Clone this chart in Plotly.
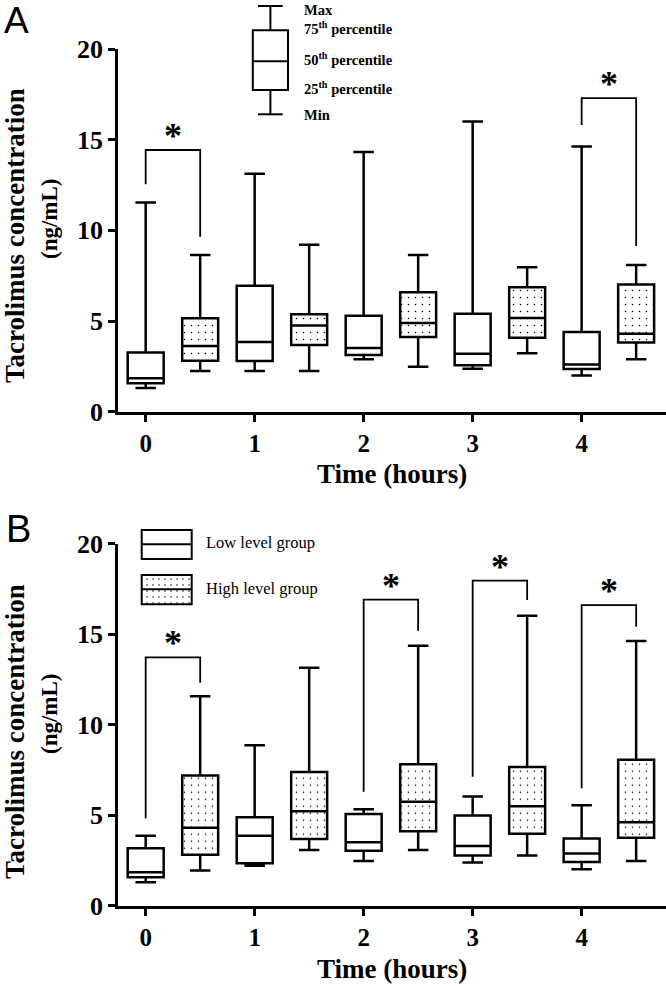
import plotly.graph_objects as go

W, H = 666, 986

# ---------------- data ----------------
time_pos = [0, 1, 2, 3, 4]
time_labels = ["0", "1", "2", "3", "4"]
y_ticks = [0, 5, 10, 15, 20]

# Panel A
a_low_min = [1.30, 2.24, 2.89, 2.37, 2.00]
a_low_q1 = [1.57, 2.79, 3.13, 2.56, 2.36]
a_low_med = [1.85, 3.84, 3.51, 3.20, 2.60]
a_low_q3 = [3.27, 6.95, 5.29, 5.40, 4.39]
a_low_max = [11.53, 13.12, 14.32, 16.00, 14.62]

a_high_min = [2.24, 2.24, 2.48, 3.22, 2.89]
a_high_q1 = [2.81, 3.68, 4.12, 4.08, 3.81]
a_high_med = [3.62, 4.76, 4.89, 5.17, 4.30]
a_high_q3 = [5.15, 5.37, 6.58, 6.86, 7.02]
a_high_max = [8.64, 9.21, 8.64, 7.96, 8.09]

# Panel B
b_low_min = [1.29, 2.21, 2.47, 2.38, 2.01]
b_low_q1 = [1.57, 2.34, 3.04, 2.77, 2.42]
b_low_med = [1.85, 3.86, 3.51, 3.30, 2.88]
b_low_q3 = [3.17, 4.89, 5.06, 4.98, 3.71]
b_low_max = [3.86, 8.87, 5.33, 6.03, 5.55]

b_high_min = [1.94, 3.08, 3.08, 2.77, 2.47]
b_high_q1 = [2.82, 3.69, 4.11, 3.97, 3.76]
b_high_med = [4.30, 5.22, 5.74, 5.50, 4.61]
b_high_q3 = [7.20, 7.38, 7.82, 7.66, 8.06]
b_high_max = [11.57, 13.15, 14.36, 16.02, 14.62]

# significance brackets (time point, bracket top, low-leg end, high-leg end)
a_sig_time = [0, 4]
a_sig_top = [14.43, 17.29]
a_sig_low_end = [12.54, 15.81]
a_sig_high_end = [9.65, 9.14]

b_sig_time = [0, 2, 3, 4]
b_sig_top = [13.72, 16.91, 17.96, 16.61]
b_sig_low_end = [4.83, 6.30, 7.13, 6.49]
b_sig_high_end = [12.32, 15.19, 16.89, 15.41]

# ---------------- styling ----------------
HIGH_OFFSET = 0.5
BOX_W = 0.33
LW = 2.5
SERIF = "Liberation Serif"


def py(v):
    return 1 - v / H


fig = go.Figure()


def add_panel(xa, ya, lo, hi, sig):
    lo_min, lo_q1, lo_med, lo_q3, lo_max = lo
    hi_min, hi_q1, hi_med, hi_q3, hi_max = hi
    hx = [t + HIGH_OFFSET for t in time_pos]
    # dotted fill for high-level group boxes
    fig.add_trace(go.Bar(
        x=hx, base=hi_q1, y=[b - a for a, b in zip(hi_q1, hi_q3)], width=BOX_W,
        marker=dict(color="white", line=dict(width=0),
                    pattern=dict(shape=".", fgcolor="black", bgcolor="white",
                                 size=7, solidity=0.04)),
        xaxis=xa, yaxis=ya, hoverinfo="skip", showlegend=False))
    fig.add_trace(go.Box(
        x=time_pos, q1=lo_q1, median=lo_med, q3=lo_q3,
        lowerfence=lo_min, upperfence=lo_max, width=BOX_W, whiskerwidth=0.57,
        fillcolor="white", line=dict(color="black", width=LW),
        boxpoints=False, xaxis=xa, yaxis=ya, showlegend=False))
    fig.add_trace(go.Box(
        x=hx, q1=hi_q1, median=hi_med, q3=hi_q3,
        lowerfence=hi_min, upperfence=hi_max, width=BOX_W, whiskerwidth=0.57,
        fillcolor="rgba(0,0,0,0)", line=dict(color="black", width=LW),
        boxpoints=False, xaxis=xa, yaxis=ya, showlegend=False))
    st, stop, slo, shi = sig
    bx, by = [], []
    for t, top, le, he in zip(st, stop, slo, shi):
        bx += [t, t, t + HIGH_OFFSET, t + HIGH_OFFSET, None]
        by += [le, top, top, he, None]
        fig.add_annotation(x=t + HIGH_OFFSET / 2, y=top, xref=xa, yref=ya,
                           text="*", showarrow=False, yanchor="middle", yshift=14,
                           font=dict(family=SERIF, size=36, color="black", weight="bold"))
    fig.add_trace(go.Scatter(x=bx, y=by, mode="lines",
                             line=dict(color="black", width=1.8),
                             xaxis=xa, yaxis=ya, hoverinfo="skip", showlegend=False))


add_panel("x", "y",
          (a_low_min, a_low_q1, a_low_med, a_low_q3, a_low_max),
          (a_high_min, a_high_q1, a_high_med, a_high_q3, a_high_max),
          (a_sig_time, a_sig_top, a_sig_low_end, a_sig_high_end))
add_panel("x2", "y2",
          (b_low_min, b_low_q1, b_low_med, b_low_q3, b_low_max),
          (b_high_min, b_high_q1, b_high_med, b_high_q3, b_high_max),
          (b_sig_time, b_sig_top, b_sig_low_end, b_sig_high_end))

# legend key (B) dotted fill, on pixel overlay axes
fig.add_trace(go.Bar(x=[166.7], base=[575], y=[29.3], width=[50],
                     marker=dict(color="white", line=dict(width=0),
                                 pattern=dict(shape=".", fgcolor="black", bgcolor="white",
                                              size=6, solidity=0.05)),
                     xaxis="x3", yaxis="y3", hoverinfo="skip", showlegend=False))

xrange = [-0.254, 4.774]
xcommon = dict(range=xrange, tickvals=time_pos, ticktext=time_labels, ticks="outside",
               ticklen=8, tickwidth=LW, tickcolor="black", showline=True, linewidth=LW,
               linecolor="black", showgrid=False, zeroline=False, automargin=False,
               tickfont=dict(family=SERIF, size=25, color="black", weight="bold"),
               domain=[118 / W, 1])
ycommon = dict(range=[0, 20], tickvals=y_ticks, ticks="outside", ticklen=7, tickwidth=LW,
               tickcolor="black", showline=True, linewidth=LW, linecolor="black",
               showgrid=False, zeroline=False, automargin=False,
               tickfont=dict(family=SERIF, size=26, color="black", weight="bold"))

fig.update_layout(
    width=W, height=H, margin=dict(l=0, r=0, t=0, b=0),
    template="none", paper_bgcolor="white", plot_bgcolor="rgba(0,0,0,0)",
    showlegend=False, boxmode="overlay", barmode="overlay",
    xaxis=dict(anchor="y", **xcommon),
    yaxis=dict(anchor="x", domain=[py(411.7), py(49)], **ycommon),
    xaxis2=dict(anchor="y2", **xcommon),
    yaxis2=dict(anchor="x2", domain=[py(905.7), py(543.7)], **ycommon),
    xaxis3=dict(anchor="y3", domain=[0, 1], range=[0, W], visible=False, fixedrange=True),
    yaxis3=dict(anchor="x3", domain=[0, 1], range=[H, 0], visible=False, fixedrange=True),
)


def ann(x, y, text, size, weight="bold", family=SERIF, xanchor="center", angle=0):
    fig.add_annotation(x=x, y=y, xref="x3", yref="y3", text=text, showarrow=False,
                       xanchor=xanchor, yanchor="middle", textangle=angle,
                       font=dict(family=family, size=size, color="black", weight=weight))


# panel labels
ann(2, 20, "A", 37, weight="normal", family="Liberation Sans", xanchor="left")
ann(4, 529, "B", 38, weight="normal", family="Liberation Sans", xanchor="left")

# axis titles
for yc in (236, 732):
    ann(15, yc, "Tacrolimus concentration", 27, angle=-90)
for yc in (219, 714):
    ann(49, yc, "(ng/mL)", 23, angle=-90)
ann(391.5, 474, "Time (hours)", 27)
ann(391.5, 969, "Time (hours)", 27)


# legend A (box-plot key)
def line(x0, y0, x1, y1, w=2):
    fig.add_shape(type="line", x0=x0, y0=y0, x1=x1, y1=y1, xref="x3", yref="y3",
                  line=dict(color="black", width=w))


fig.add_shape(type="rect", x0=252.8, x1=288, y0=30.3, y1=90, xref="x3", yref="y3",
              line=dict(color="black", width=2))
line(252.8, 61.3, 288, 61.3)
line(270.4, 6, 270.4, 30.3)
line(270.4, 90, 270.4, 114.3)
line(258, 6, 282.7, 6)
line(258, 114.3, 282.7, 114.3)
ann(302, 9.5, "Max", 14.5, xanchor="left")
ann(302, 28, "75<sup>th</sup> percentile", 14.5, xanchor="left")
ann(302, 59, "50<sup>th</sup> percentile", 14.5, xanchor="left")
ann(302, 88, "25<sup>th</sup> percentile", 14.5, xanchor="left")
ann(302, 114.5, "Min", 14.5, xanchor="left")

# legend B (group key)
fig.add_shape(type="rect", x0=141.7, x1=191.7, y0=530, y1=559, xref="x3", yref="y3",
              line=dict(color="black", width=2))
line(141.7, 544.3, 191.7, 544.3)
fig.add_shape(type="rect", x0=141.7, x1=191.7, y0=575, y1=604.3, xref="x3", yref="y3",
              line=dict(color="black", width=2))
line(141.7, 589.3, 191.7, 589.3)
ann(204, 542, "Low level group", 16.5, weight="normal", xanchor="left")
ann(204, 588, "High level group", 16.5, weight="normal", xanchor="left")

fig.write_html("out.html", config={"displayModeBar": False},
               post_script="document.body.style.margin='0';document.body.style.overflow='hidden';")
